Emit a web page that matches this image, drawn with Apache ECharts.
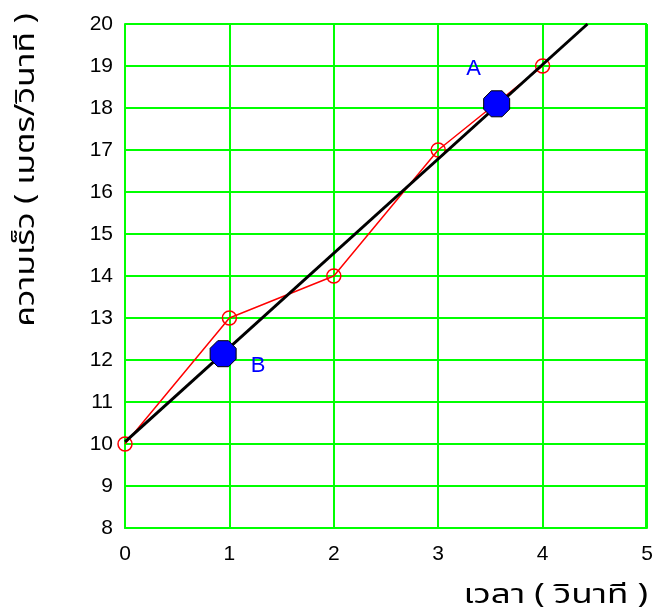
<!DOCTYPE html>
<html><head><meta charset="utf-8">
<script src="https://cdn.jsdelivr.net/npm/echarts@6/dist/echarts.min.js"></script>
<style>html,body{margin:0;padding:0;background:#fff}#c{width:658px;height:616px}</style>
</head><body><div id="c"></div>
<script>
const measuredTimes = [0, 1, 2, 3, 4];
const measuredSpeeds = [10, 13, 14, 17, 19];
const fitLine = [[0, 10.05], [4.43, 20]];
const pointA = [3.56, 18.1];
const pointB = [0.94, 12.15];
const xTicks = [0, 5, 1];
const yTicks = [8, 20, 1];
const xTitle = 'เวลา ( วินาที )';
const yTitle = 'ความเร็ว ( เมตร/วินาที )';

const octagon = 'path://M-4.14,-10 L4.14,-10 L10,-4.14 L10,4.14 L4.14,10 L-4.14,10 L-10,4.14 L-10,-4.14 Z';
const tickFont = {fontFamily: 'Liberation Sans', fontSize: 21, color: '#000'};
const green = '#00ff00';
const thaiFont = 'Noto Sans Thai, Noto Sans, sans-serif';

const chart = echarts.init(document.getElementById('c'), null, {renderer: 'canvas'});
chart.setOption({
  animation: false,
  grid: {left: 125, right: 11, top: 24, bottom: 88, containLabel: false},
  xAxis: {
    type: 'value', min: xTicks[0], max: xTicks[1], interval: xTicks[2],
    axisLine: {show: true, lineStyle: {color: green, width: 2}},
    axisTick: {show: false},
    splitLine: {show: true, lineStyle: {color: green, width: 2}},
    axisLabel: Object.assign({margin: 16}, tickFont)
  },
  yAxis: {
    type: 'value', min: yTicks[0], max: yTicks[1], interval: yTicks[2],
    axisLine: {show: true, lineStyle: {color: green, width: 2}},
    axisTick: {show: false},
    splitLine: {show: true, lineStyle: {color: green, width: 2}},
    axisLabel: Object.assign({margin: 12}, tickFont)
  },
  graphic: [
    {type: 'rect', right: 11, top: 24, shape: {width: 2, height: 504}, style: {fill: green}, z: -1},
    {type: 'text', x: 29, y: 170, rotation: Math.PI / 2, scaleX: 1.25,
     style: {text: yTitle, fontSize: 27, fontFamily: thaiFont, fill: '#000', align: 'center', verticalAlign: 'middle'}},
    {type: 'text', x: 648, y: 598, scaleX: 1.3,
     style: {text: xTitle, fontSize: 27, fontFamily: thaiFont, fill: '#000', align: 'right', verticalAlign: 'middle'}}
  ],
  series: [
    {
      type: 'line', data: measuredTimes.map((t, i) => [t, measuredSpeeds[i]]),
      symbol: 'circle', symbolSize: 14, showAllSymbol: true,
      lineStyle: {color: '#ff0000', width: 1.5},
      itemStyle: {color: 'rgba(255,255,255,0)', borderColor: '#ff0000', borderWidth: 1.5, opacity: 1},
      z: 3
    },
    {
      type: 'line', data: fitLine, symbol: 'none',
      lineStyle: {color: '#000', width: 3}, z: 4
    },
    {
      type: 'scatter', symbol: octagon, symbolSize: 26,
      data: [
        {value: pointA, label: {show: true, formatter: 'A', offset: [-23, -35]}},
        {value: pointB, label: {show: true, formatter: 'B', offset: [35, 12]}}
      ],
      itemStyle: {color: '#0000ff', borderColor: '#000', borderWidth: 1, opacity: 1},
      label: {position: 'inside', color: '#0000ff', fontSize: 22, fontFamily: 'Liberation Sans'},
      z: 5
    }
  ]
});
</script></body></html>
